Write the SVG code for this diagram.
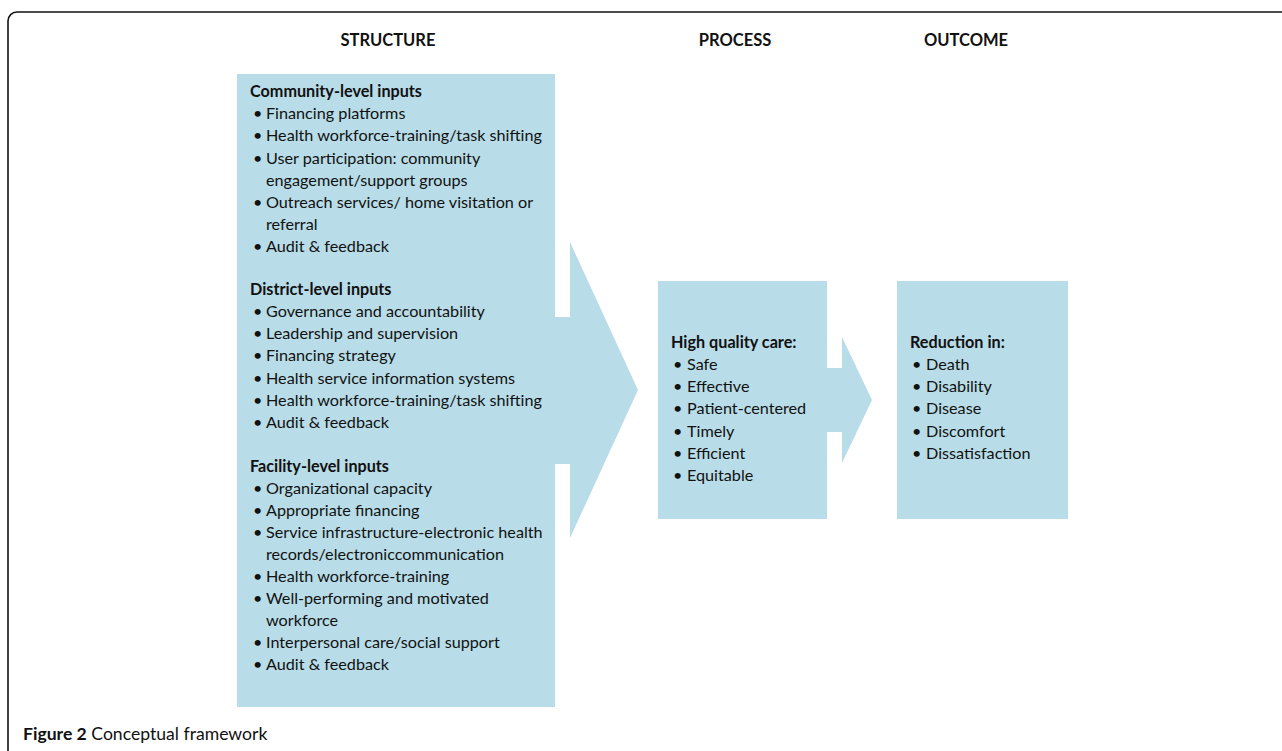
<svg xmlns="http://www.w3.org/2000/svg" width="1282" height="751" viewBox="0 0 1282 751">
<style>
  text { font-family: Lato, "Open Sans", "Liberation Sans", sans-serif; fill: #111; }
  .hdr { font-size: 16.5px; font-weight: bold; text-anchor: middle; }
  .t { font-size: 16.2px; }
  .b { font-size: 16.2px; font-weight: bold; }
  .box { fill: #b8dde8; }
  .frame { fill: none; stroke: #111; stroke-width: 1.6; }
  .cap { font-size: 17.6px; }
</style>
<rect width="1282" height="751" fill="#fff"/>
<rect class="frame" x="8" y="12" width="1320" height="780" rx="9"/>

<g id="headers">
  <text class="hdr" x="388" y="46">STRUCTURE</text>
  <text class="hdr" x="735" y="46">PROCESS</text>
  <text class="hdr" x="966" y="46">OUTCOME</text>
</g>

<g id="connectors">
  <polygon class="box" points="550,317 570,317 570,242 638,390 570,538 570,464 550,464"/>
  <polygon class="box" points="822,368 842,368 842,337 872,400 842,463 842,432 822,432"/>
</g>

<g id="structure">
  <rect class="box" x="237" y="74" width="318" height="633"/>
  <text class="b" x="250" y="97">Community-level inputs</text>
  <g class="t">
    <text x="253" y="119">•</text><text x="266" y="119">Financing platforms</text>
    <text x="253" y="141">•</text><text x="266" y="141">Health workforce-training/task shifting</text>
    <text x="253" y="164">•</text><text x="266" y="164">User participation: community</text>
    <text x="266" y="186">engagement/support groups</text>
    <text x="253" y="208">•</text><text x="266" y="208">Outreach services/ home visitation or</text>
    <text x="266" y="230">referral</text>
    <text x="253" y="252">•</text><text x="266" y="252">Audit &amp; feedback</text>
  </g>
  <text class="b" x="250" y="295">District-level inputs</text>
  <g class="t">
    <text x="253" y="317">•</text><text x="266" y="317">Governance and accountability</text>
    <text x="253" y="339">•</text><text x="266" y="339">Leadership and supervision</text>
    <text x="253" y="361">•</text><text x="266" y="361">Financing strategy</text>
    <text x="253" y="384">•</text><text x="266" y="384">Health service information systems</text>
    <text x="253" y="406">•</text><text x="266" y="406">Health workforce-training/task shifting</text>
    <text x="253" y="428">•</text><text x="266" y="428">Audit &amp; feedback</text>
  </g>
  <text class="b" x="250" y="472">Facility-level inputs</text>
  <g class="t">
    <text x="253" y="494">•</text><text x="266" y="494">Organizational capacity</text>
    <text x="253" y="516">•</text><text x="266" y="516">Appropriate financing</text>
    <text x="253" y="538">•</text><text x="266" y="538">Service infrastructure-electronic health</text>
    <text x="266" y="560">records/electroniccommunication</text>
    <text x="253" y="582">•</text><text x="266" y="582">Health workforce-training</text>
    <text x="253" y="604">•</text><text x="266" y="604">Well-performing and motivated</text>
    <text x="266" y="626">workforce</text>
    <text x="253" y="648">•</text><text x="266" y="648">Interpersonal care/social support</text>
    <text x="253" y="670">•</text><text x="266" y="670">Audit &amp; feedback</text>
  </g>
</g>

<g id="process">
  <rect class="box" x="658" y="281" width="169" height="238"/>
  <text class="b" x="671" y="348">High quality care:</text>
  <g class="t">
    <text x="673" y="370">•</text><text x="687" y="370">Safe</text>
    <text x="673" y="392">•</text><text x="687" y="392">Effective</text>
    <text x="673" y="414">•</text><text x="687" y="414">Patient-centered</text>
    <text x="673" y="437">•</text><text x="687" y="437">Timely</text>
    <text x="673" y="459">•</text><text x="687" y="459">Efficient</text>
    <text x="673" y="481">•</text><text x="687" y="481">Equitable</text>
  </g>
</g>

<g id="outcome">
  <rect class="box" x="897" y="281" width="171" height="238"/>
  <text class="b" x="910" y="348">Reduction in:</text>
  <g class="t">
    <text x="912" y="370">•</text><text x="926" y="370">Death</text>
    <text x="912" y="392">•</text><text x="926" y="392">Disability</text>
    <text x="912" y="414">•</text><text x="926" y="414">Disease</text>
    <text x="912" y="437">•</text><text x="926" y="437">Discomfort</text>
    <text x="912" y="459">•</text><text x="926" y="459">Dissatisfaction</text>
  </g>
</g>

<g id="caption">
  <text class="cap" x="23" y="740"><tspan font-weight="bold">Figure 2</tspan> Conceptual framework</text>
</g>
</svg>
